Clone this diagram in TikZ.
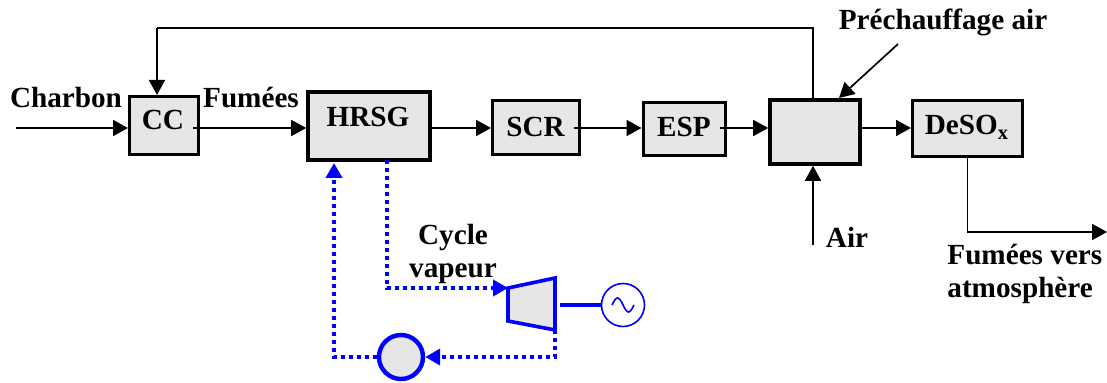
\documentclass[tikz,border=0pt]{standalone}
\usepackage{fontspec}
\setmainfont{Liberation Serif}
\usetikzlibrary{arrows.meta}
\definecolor{boxgray}{HTML}{E6E6E6}
\definecolor{cycleblue}{HTML}{0000FF}
\tikzset{
  box/.style={draw,fill=boxgray,line width=1.5pt,inner sep=0pt},
  bigbox/.style={box,line width=1.8pt},
  lab/.style={font=\fontsize{14.6}{16.5}\selectfont\bfseries,inner sep=0pt,anchor=base,align=center},
  flow/.style={line width=0.85pt,-{Triangle[length=7.5pt,width=8pt]}},
  vapour/.style={color=cycleblue,line width=2pt,dash pattern=on 2pt off 2pt,-{Triangle[length=7.5pt,width=8pt]}},
}
\begin{document}
\begin{tikzpicture}[x=0.5pt,y=-0.5pt]
\useasboundingbox (0,0) rectangle (1107,383);
\node[box,minimum width=34.5pt,minimum height=29pt] (cc) at (164,125.5) {};
\node[bigbox,minimum width=61pt,minimum height=34pt] (hrsg) at (369,126) {};
\node[box,minimum width=43.5pt,minimum height=27pt] (scr) at (536,127.5) {};
\node[box,minimum width=41pt,minimum height=26.8pt] (esp) at (684,129) {};
\node[bigbox,minimum width=45pt,minimum height=32pt] (pre) at (815,132) {};
\node[box,minimum width=55pt,minimum height=28pt] (deso) at (967.5,128.5) {};
\node[lab] (cclab) at (163,130) {CC};
\node[lab] (hrsglab) at (368,127) {HRSG};
\node[lab] (scrlab) at (535.5,137) {SCR};
\node[lab] (esplab) at (684,137) {ESP};
\node[lab] (desolab) at (967,135) {DeSO\textsubscript{x}};
\node[lab] (charbon) at (66,108) {Charbon};
\node[lab] (fumees) at (251,108) {Fumées};
\node[lab] (prechauf) at (943,30) {Préchauffage air};
\node[lab] (air) at (847,248) {Air};
\node[lab] (cyclelab) at (453,245) {Cycle};
\node[lab] (vapeurlab) at (453,278) {vapeur};
\node[lab,anchor=base west] (sortie) at (947,265) {Fumées vers};
\node[lab,anchor=base west] (sortieb) at (947,298) {atmosphère};
\coordinate (axis) at (0,128);
\coordinate (coal) at (16,128);
\coordinate (ret) at (157,28);
\coordinate (airin) at (813,245);
\coordinate (hot) at (898,44);
\coordinate (hotend) at (839,98);
\coordinate (stack) at (1107,232);
\draw[flow] (coal) -- (cc.west |- coal);
\foreach \a/\b/\s in {cc/hrsg/-3.5,hrsg/scr/0,scr/esp/-3.5,esp/pre/-3.5,pre/deso/0}{
	\draw[flow] ([xshift=\s pt]\a.east |- axis) -- (\b.west |- axis);}
\draw[line width=0.85pt] (pre.north -| airin) -- (airin |- ret) -- (ret);
\draw[flow] (ret) -- (cc.north -| ret);
\draw[flow] (airin) -- (pre.south -| airin);
\draw[flow] (hot) -- (hotend);
\draw[flow] (deso.south) -- (deso.south |- stack) -- (stack);
\draw[draw=cycleblue,fill=boxgray,line width=1.8pt] (508,288) coordinate (tin) -- (555,278) -- (555,330) coordinate (tout) -- (508,321) -- cycle;
\node[draw=cycleblue,fill=white,circle,line width=0.8pt,minimum size=21.5pt,inner sep=0pt] (gen) at (623,305) {};
\node[draw=cycleblue,fill=boxgray,circle,line width=2.2pt,minimum size=22pt,inner sep=0pt] (pump) at (401,357) {};
\coordinate (shaft) at (560,305);
\coordinate (back) at (334,163);
\coordinate (steam) at (387,160);
\draw[color=cycleblue,line width=2.4pt] (shaft) -- (gen.west);
\draw[color=cycleblue,line width=0.8pt] (612,305) sin (617.5,298) cos (623,305) sin (628.5,312) cos (634,305);
\draw[vapour] (steam) -- (steam |- tin) -- (tin);
\draw[vapour] (tout) -- (tout |- pump) -- (pump.east);
\draw[vapour] (pump.west) -- (back |- pump) -- (back);
\end{tikzpicture}
\end{document}
